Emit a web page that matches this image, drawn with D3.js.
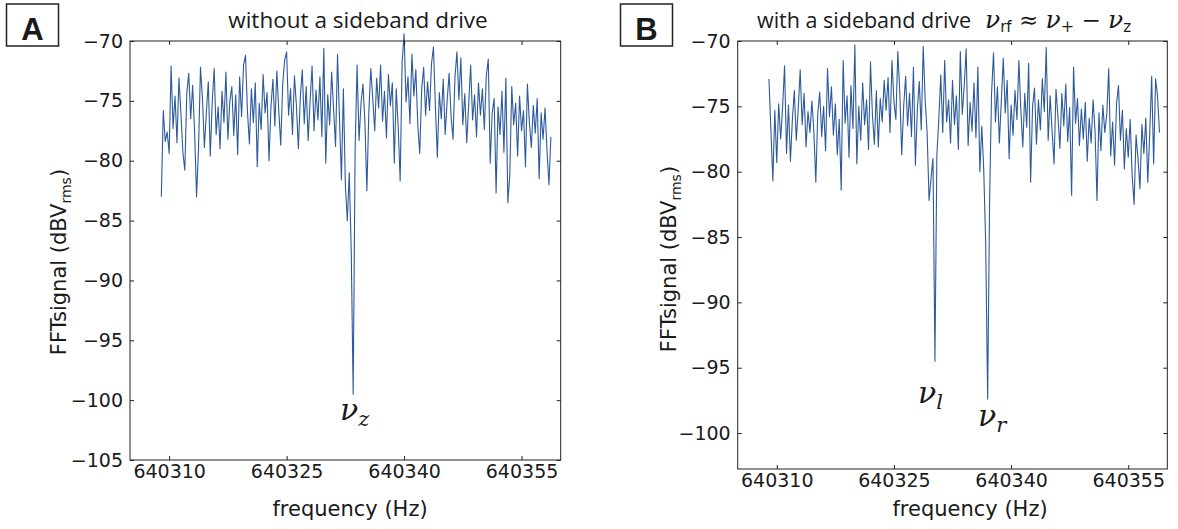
<!DOCTYPE html>
<html>
<head>
<meta charset="utf-8">
<script src="https://cdn.jsdelivr.net/npm/d3@7"></script>
<style>
  body { margin: 0; background: #fff; }
  text { fill: #1a1a1a; }
</style>
</head>
<body>
<script>
// FFT bins: both spectra sampled on the same grid (Hz)
var freqStart = 640309;
var freqStep = 0.25;

// panel A: without a sideband drive (dBVrms)
var signalA = [
  -83.0, -75.8, -78.4, -77.6, -79.4, -72.1, -77.3, -74.6, -78.5, -73.1,
  -76.0, -79.3, -80.8, -74.4, -72.7, -76.5, -73.7, -77.6, -83.0, -79.0,
  -72.2, -74.8, -78.9, -76.0, -73.4, -79.6, -75.1, -72.3, -77.8, -75.5,
  -79.0, -74.2, -76.8, -72.6, -78.2, -75.0, -73.8, -77.9, -74.5, -79.5,
  -73.0, -76.3, -72.0, -71.2, -75.9, -78.6, -74.0, -76.8, -73.5, -80.5,
  -75.2, -77.4, -72.8, -76.0, -74.3, -80.0, -75.5, -73.2, -77.1, -72.5,
  -75.8, -78.7, -73.6, -71.6, -70.9, -76.2, -74.0, -77.8, -72.9, -75.4,
  -79.0, -74.7, -72.4, -76.9, -73.8, -78.3, -75.0, -72.1, -77.5, -74.1,
  -76.6, -73.0, -78.0, -70.6, -80.2, -74.5, -77.0, -72.6, -75.7, -78.8,
  -71.1, -76.4, -81.6, -74.0, -82.0, -85.0, -81.0, -87.5, -99.5, -79.0,
  -72.0, -78.3, -75.2, -73.6, -76.8, -82.5, -75.9, -72.3, -74.8, -77.5,
  -73.1, -75.6, -72.0, -76.7, -74.2, -78.1, -72.8, -75.4, -73.5, -80.2,
  -74.0, -77.2, -81.7, -71.8, -69.4, -75.1, -73.0, -76.9, -71.1, -74.6,
  -72.4, -77.0, -79.4, -74.0, -72.2, -76.2, -73.4, -75.8, -71.9, -70.5,
  -75.5, -79.7, -74.3, -76.5, -73.2, -77.8, -75.0, -72.7, -76.3, -78.2,
  -73.0, -70.9, -74.9, -71.4, -77.0, -74.4, -78.5, -75.3, -72.0, -76.6,
  -74.5, -78.0, -73.5, -76.2, -74.0, -77.4, -72.9, -71.5, -80.2, -76.0,
  -74.8, -82.7, -75.5, -77.8, -74.2, -79.3, -73.1, -83.5, -81.2, -73.8,
  -77.0, -75.2, -79.6, -74.6, -77.5, -75.8, -80.5, -73.6, -76.8, -78.9,
  -75.4, -77.7, -74.8, -81.5, -76.0, -78.2, -75.6, -79.1, -82.0, -78.0
];

// panel B: with a sideband drive (dBVrms)
var signalB = [
  -72.9, -76.8, -80.7, -75.3, -79.3, -74.8, -77.5, -75.0, -71.9, -78.6,
  -74.9, -79.2, -76.0, -73.8, -77.6, -75.2, -72.2, -76.4, -74.0, -78.1,
  -75.4, -77.0, -74.6, -76.9, -80.8, -75.6, -73.9, -77.3, -75.0, -78.4,
  -72.1, -75.8, -73.5, -77.2, -74.8, -78.7, -76.0, -81.4, -71.5, -76.3,
  -74.2, -78.9, -73.4, -76.7, -70.3, -79.4, -75.0, -77.6, -73.2, -76.4,
  -74.5, -78.3, -71.6, -75.7, -77.9, -73.8, -78.1, -74.4, -76.2, -73.0,
  -75.3, -72.8, -77.0, -71.5, -74.6, -76.0, -70.8, -73.9, -78.7, -75.0,
  -72.7, -76.5, -74.0, -77.3, -72.0, -79.5, -75.2, -73.1, -76.8, -70.4,
  -74.5, -77.0, -82.2, -80.5, -79.0, -94.5, -78.7, -75.9, -72.6, -77.0,
  -71.5, -76.2, -74.5, -77.8, -73.0, -76.4, -74.2, -78.3, -70.8, -75.6,
  -73.4, -70.6, -78.0, -74.7, -76.9, -73.2, -77.4, -72.0, -80.0, -76.5,
  -79.9, -85.5, -97.4, -82.2, -74.0, -70.9, -76.2, -73.5, -77.8, -74.6,
  -71.3, -75.5, -73.0, -79.0, -74.9, -77.2, -73.8, -76.0, -71.5, -75.3,
  -78.1, -74.0, -76.6, -71.7, -80.8, -75.0, -73.6, -77.9, -74.5, -76.8,
  -72.9, -75.4, -70.5, -77.6, -74.2, -76.9, -79.4, -73.7, -75.8, -78.2,
  -74.0, -76.5, -73.3, -77.7, -75.1, -81.8, -72.0, -76.3, -74.4, -78.0,
  -75.2, -77.5, -74.7, -79.2, -75.9, -77.8, -74.5, -76.9, -82.2, -75.5,
  -78.4, -74.9, -77.0, -75.6, -72.1, -78.8, -76.2, -79.5, -74.8, -73.4,
  -77.6, -75.3, -79.8, -76.7, -78.9, -76.0, -80.3, -82.5, -77.2, -79.0,
  -81.3, -76.4, -78.6, -75.9, -80.8, -77.1, -72.7, -79.4, -72.9, -74.2,
  -77.0
];

var xTicks = [640310, 640325, 640340, 640355];
var yTicksA = [-105, -100, -95, -90, -85, -80, -75, -70];
var yTicksB = [-100, -95, -90, -85, -80, -75, -70];

var svgWidth = 1178;
var svgHeight = 529;

var svg = d3.select("body")
  .append("svg")
  .attr("width", svgWidth)
  .attr("height", svgHeight);

var lineColor = "#2d5a9c";
var frameColor = "#222";

function drawPanel(p) {
  var x = d3.scaleLinear().domain([640305, 640360]).range([p.left, p.right]);
  var y = d3.scaleLinear().domain(p.yDomain).range([p.bottom, p.top]);

  var line = d3.line()
    .x((d, i) => x(freqStart + i * freqStep))
    .y(d => y(d));

  svg.append("path")
    .attr("d", line(p.data))
    .attr("fill", "none")
    .attr("stroke", lineColor)
    .attr("stroke-width", 1.1)
    .attr("stroke-linejoin", "round");

  // inward ticks on all four sides
  var bottom = svg.append("g")
    .attr("transform", `translate(0, ${p.bottom})`)
    .call(d3.axisBottom(x).tickValues(xTicks).tickFormat(d3.format("d"))
      .tickSizeInner(-4).tickSizeOuter(0).tickPadding(5));
  var top = svg.append("g")
    .attr("transform", `translate(0, ${p.top})`)
    .call(d3.axisTop(x).tickValues(xTicks).tickFormat("")
      .tickSizeInner(-4).tickSizeOuter(0));
  var left = svg.append("g")
    .attr("transform", `translate(${p.left}, 0)`)
    .call(d3.axisLeft(y).tickValues(p.yTicks)
      .tickSizeInner(-4).tickSizeOuter(0).tickPadding(7));
  var right = svg.append("g")
    .attr("transform", `translate(${p.right}, 0)`)
    .call(d3.axisRight(y).tickValues(p.yTicks).tickFormat("")
      .tickSizeInner(-4).tickSizeOuter(0));

  [bottom, top, left, right].forEach(function(g) {
    g.select(".domain").remove();
    g.selectAll(".tick line").attr("stroke", frameColor);
    g.selectAll("text")
      .style("font-family", "DejaVu Sans")
      .style("font-size", "19px")
      .attr("fill", "#1a1a1a");
  });

  svg.append("rect")
    .attr("x", p.left)
    .attr("y", p.top)
    .attr("width", p.right - p.left)
    .attr("height", p.bottom - p.top)
    .attr("fill", "none")
    .attr("stroke", frameColor)
    .attr("stroke-width", 1);

  // axis titles
  svg.append("text")
    .attr("x", p.xLabelX)
    .attr("y", 516)
    .attr("text-anchor", "middle")
    .style("font-family", "DejaVu Sans")
    .style("font-size", "21px")
    .text("frequency (Hz)");

  var yl = svg.append("text")
    .attr("transform", `translate(${p.yLabelX}, ${p.yLabelY}) rotate(-90)`)
    .attr("text-anchor", "middle")
    .style("font-family", "DejaVu Sans")
    .style("font-size", "21px");
  yl.append("tspan").text("FFTsignal (dBV");
  yl.append("tspan").attr("dy", 5).style("font-size", "14px").text("rms");
  yl.append("tspan").attr("dy", -5).text(")");

  // panel letter
  svg.append("rect")
    .attr("x", p.boxX).attr("y", 4)
    .attr("width", 52).attr("height", 42)
    .attr("fill", "none")
    .attr("stroke", frameColor)
    .attr("stroke-width", 1.5);
  svg.append("text")
    .attr("x", p.boxX + 26).attr("y", 40)
    .attr("text-anchor", "middle")
    .style("font-family", "Liberation Sans")
    .style("font-weight", "bold")
    .style("font-size", "31px")
    .text(p.letter);

  return { x: x, y: y };
}

function nu(sub, xPos, yPos) {
  var t = svg.append("text")
    .attr("x", xPos).attr("y", yPos)
    .style("font-family", "DejaVu Serif")
    .style("font-style", "italic")
    .style("font-size", "30px");
  t.append("tspan").text("\u03bd");
  t.append("tspan").attr("dy", 6).style("font-size", "21px").text(sub);
}

var a = drawPanel({
  left: 130, right: 560.7, top: 41, bottom: 460,
  yDomain: [-105, -70], yTicks: yTicksA, data: signalA,
  xLabelX: 350, yLabelX: 66, yLabelY: 262, boxX: 6.5, letter: "A"
});

var b = drawPanel({
  left: 737.7, right: 1167.3, top: 41, bottom: 469,
  yDomain: [-102.75, -70], yTicks: yTicksB, data: signalB,
  xLabelX: 970, yLabelX: 676, yLabelY: 259, boxX: 620.5, letter: "B"
});

// titles
svg.append("text")
  .attr("x", 358).attr("y", 28)
  .attr("text-anchor", "middle")
  .style("font-family", "Open Sans")
  .style("font-size", "22.5px")
  .text("without a sideband drive");

svg.append("text")
  .attr("x", 757).attr("y", 28)
  .style("font-family", "Open Sans")
  .style("font-size", "21.5px")
  .text("with a sideband drive");

var tb = svg.append("text")
  .attr("x", 985).attr("y", 28)
  .style("font-family", "DejaVu Serif")
  .style("font-size", "23px");
var greek = function(s) {
  return s.style("font-style", "italic").style("font-size", "25px").text("\u03bd");
};
greek(tb.append("tspan"));
tb.append("tspan").attr("dy", 4).style("font-family", "DejaVu Sans").style("font-size", "15px").text("rf");
tb.append("tspan").attr("dy", -4).text(" \u2248 ");
greek(tb.append("tspan"));
tb.append("tspan").attr("dy", 4).style("font-size", "16px").text("+");
tb.append("tspan").attr("dy", -4).text(" \u2212 ");
greek(tb.append("tspan"));
tb.append("tspan").attr("dy", 4).style("font-family", "DejaVu Sans").style("font-size", "15px").text("z");

// resonance labels
nu("z", 340, 420);
nu("l", 918, 403);
nu("r", 978, 426);
</script>
</body>
</html>
